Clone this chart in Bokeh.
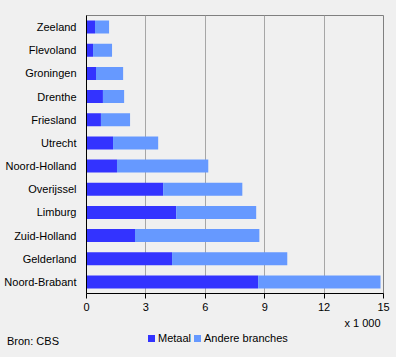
from bokeh.plotting import figure
from bokeh.layouts import column
from bokeh.models import FactorRange, Range1d, FixedTicker, Title, ColumnDataSource, Div
from bokeh.embed import file_html
from bokeh.resources import INLINE

provinces = ["Zeeland", "Flevoland", "Groningen", "Drenthe", "Friesland", "Utrecht",
             "Noord-Holland", "Overijssel", "Limburg", "Zuid-Holland", "Gelderland", "Noord-Brabant"]
metaal = [0.43, 0.33, 0.48, 0.83, 0.73, 1.34, 1.54, 3.87, 4.53, 2.45, 4.32, 8.67]
totaal = [1.14, 1.29, 1.85, 1.90, 2.20, 3.62, 6.15, 7.87, 8.57, 8.73, 10.14, 14.85]
andere = [t - m for t, m in zip(totaal, metaal)]
x_ticks = [0, 3, 6, 9, 12, 15]
series = ["Metaal", "Andere branches"]
colors = ["#3333ff", "#6699ff"]
source_note = "Bron: CBS"
unit_note = "x 1 000"

FONT = "Liberation Sans"
BG = "#f0f0f0"

src = ColumnDataSource(dict(prov=provinces, metaal=metaal, andere=andere))

p = figure(width=396, height=330, output_backend="svg", toolbar_location=None,
           y_range=FactorRange(factors=list(reversed(provinces)), range_padding=0),
           x_range=Range1d(0, 15),
           min_border_left=86, min_border_right=13, min_border_top=15, min_border_bottom=37)
p.background_fill_color = BG
p.border_fill_color = BG
p.outline_line_color = "#808080"

r = p.hbar_stack(["metaal", "andere"], y="prov", height=0.56, source=src,
                 color=colors, line_color=None)

p.ygrid.grid_line_color = None
p.xgrid.grid_line_color = "#a6a6a6"
p.xgrid.ticker = FixedTicker(ticks=x_ticks)

p.xaxis.ticker = FixedTicker(ticks=x_ticks)
p.xaxis.axis_line_color = "black"
p.xaxis.major_tick_line_color = "black"
p.xaxis.major_tick_out = 5
p.xaxis.major_tick_in = 0
p.xaxis.minor_tick_line_color = None
p.xaxis.major_label_text_font = FONT
p.xaxis.major_label_text_font_size = "11px"
p.xaxis.major_label_text_color = "black"
p.xaxis.major_label_standoff = 4

p.yaxis.axis_line_color = "black"
p.yaxis.major_tick_line_color = None
p.yaxis.minor_tick_line_color = None
p.yaxis.major_label_text_font = FONT
p.yaxis.major_label_text_font_size = "11px"
p.yaxis.major_label_text_color = "black"
p.yaxis.major_label_standoff = 4

p.add_layout(Title(text=unit_note, align="right", offset=3, text_font=FONT, text_font_size="11px",
                   text_font_style="normal", text_color="black", standoff=2), "below")

# footer: source note and legend
sq_left = [148, 194]
txt_left = [158, 204]
parts = [f'<span style="position:absolute;left:7px;top:5px;white-space:nowrap">{source_note}</span>']
for s, c, sx, tx in zip(series, colors, sq_left, txt_left):
    parts.append(f'<span style="position:absolute;left:{sx}px;top:5px;width:7px;height:7px;background:{c}"></span>')
    parts.append(f'<span style="position:absolute;left:{tx}px;top:2px;white-space:nowrap">{s}</span>')
html = (f'<div style="position:relative;width:396px;height:27px;background:{BG};'
        f'font-family:\'{FONT}\';font-size:11px;line-height:13px;color:black">' + "".join(parts) + '</div>')
footer = Div(text=html, width=396, height=27, margin=(0, 0, 0, 0),
             styles={"background-color": BG})

layout = column(p, footer, spacing=0, styles={"background-color": BG})
open("out.html", "w").write(file_html(layout, INLINE))
